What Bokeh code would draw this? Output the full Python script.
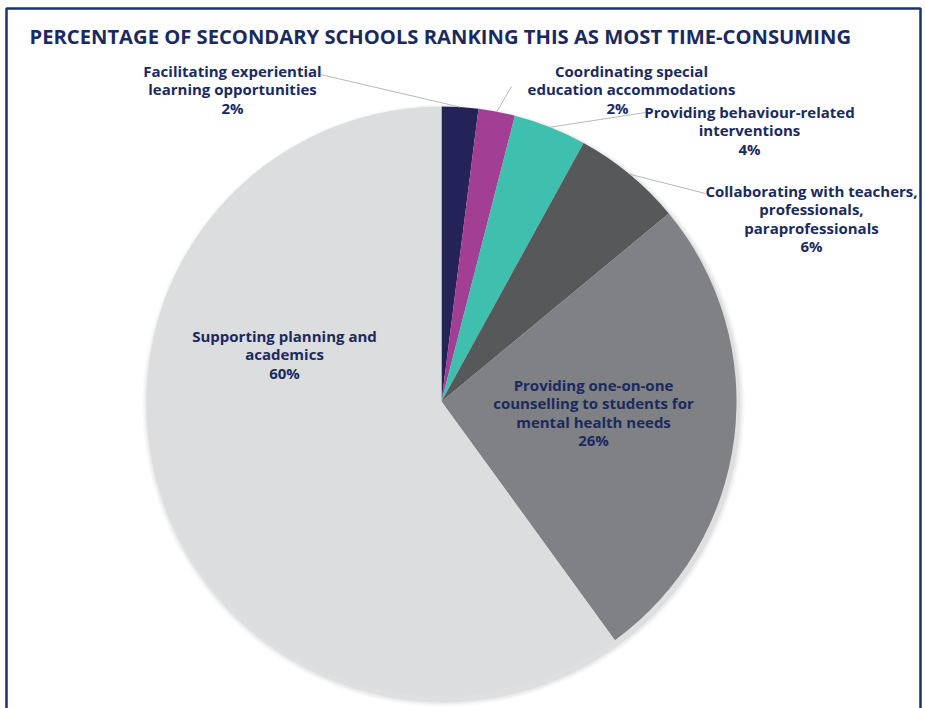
import math
from bokeh.plotting import figure
from bokeh.models import Range1d
from bokeh.core.properties import value
from bokeh.embed import file_html
from bokeh.resources import INLINE

W, H = 925, 708

title = "PERCENTAGE OF SECONDARY SCHOOLS RANKING THIS AS MOST TIME-CONSUMING"
categories = [
    "Facilitating experiential learning opportunities",
    "Coordinating special education accommodations",
    "Providing behaviour-related interventions",
    "Collaborating with teachers, professionals, paraprofessionals",
    "Providing one-on-one counselling to students for mental health needs",
    "Supporting planning and academics",
]
values = [2, 2, 4, 6, 26, 60]
colors = ["#23235a", "#a23f95", "#3fbfad", "#575859", "#808184", "#dcdddf"]
label_lines = [
    ["Facilitating experiential", "learning opportunities"],
    ["Coordinating special", "education accommodations"],
    ["Providing behaviour-related", "interventions"],
    ["Collaborating with teachers,", "professionals,", "paraprofessionals"],
    ["Providing one-on-one", "counselling to students for", "mental health needs"],
    ["Supporting planning and", "academics"],
]

# layout (pixel positions, y measured from top)
CX, CY, R = 441, 401, 295
label_pos = [(232, 70), (631, 70), (749, 111), (811, 190), (593, 384), (284, 335)]
pct_dx = [0, -14, 0, 0, 0, 0]
leader_end = [(320, 74), (511, 86), (645, 112), (705, 193), None, None]
LS = 18.5
NAVY = "#1b2a5e"
FONT = "Open Sans"

p = figure(width=W, height=H, x_range=Range1d(0, W), y_range=Range1d(0, H),
           output_backend="svg", toolbar_location=None, min_border=0)
p.axis.visible = False
p.grid.visible = False
p.outline_line_color = None
p.background_fill_color = "white"

def fy(y):
    return H - y

# shadow
for k, a in [(6, 0.07), (4, 0.11), (2, 0.17)]:
    p.circle(x=CX + 2, y=fy(CY + 4), radius=R + k, fill_color="#9a9a9a",
             fill_alpha=a, line_color=None)

total = sum(values)
cum = 0
starts, ends, mids = [], [], []
for v in values:
    s = math.pi / 2 - 2 * math.pi * cum / total
    cum += v
    e = math.pi / 2 - 2 * math.pi * cum / total
    starts.append(s)
    ends.append(e)
    mids.append((s + e) / 2)

p.wedge(x=CX, y=fy(CY), radius=R, start_angle=starts, end_angle=ends,
        direction="clock", fill_color=colors, line_color=None)

# leader lines
for i, end in enumerate(leader_end):
    if end is None:
        continue
    x0 = CX + R * math.cos(mids[i])
    y0 = fy(CY) + R * math.sin(mids[i])
    p.line(x=[x0, end[0]], y=[y0, fy(end[1])], line_color="#b8b8b8", line_width=1)

# labels
for i, lines in enumerate(label_lines):
    cx, y0 = label_pos[i]
    all_lines = lines + [f"{values[i]}%"]
    xs = [cx] * len(lines) + [cx + pct_dx[i]]
    ys = [fy(y0 + j * LS) for j in range(len(all_lines))]
    p.text(x=xs, y=ys, text=all_lines, text_align="center",
           text_baseline="middle", text_font=value(FONT), text_font_style="bold",
           text_font_size="15px", text_color=NAVY)

# title
p.text(x=[29], y=[fy(35)], text=[title], text_align="left", text_baseline="middle",
       text_font=value(FONT), text_font_style="bold", text_font_size="20.2px",
       text_color=NAVY)

# frame
p.line(x=[6, 6, 920, 920], y=[-10, fy(8), fy(8), -10], line_color="#1a3370", line_width=2.5)

open("out.html", "w").write(file_html(p, INLINE))
